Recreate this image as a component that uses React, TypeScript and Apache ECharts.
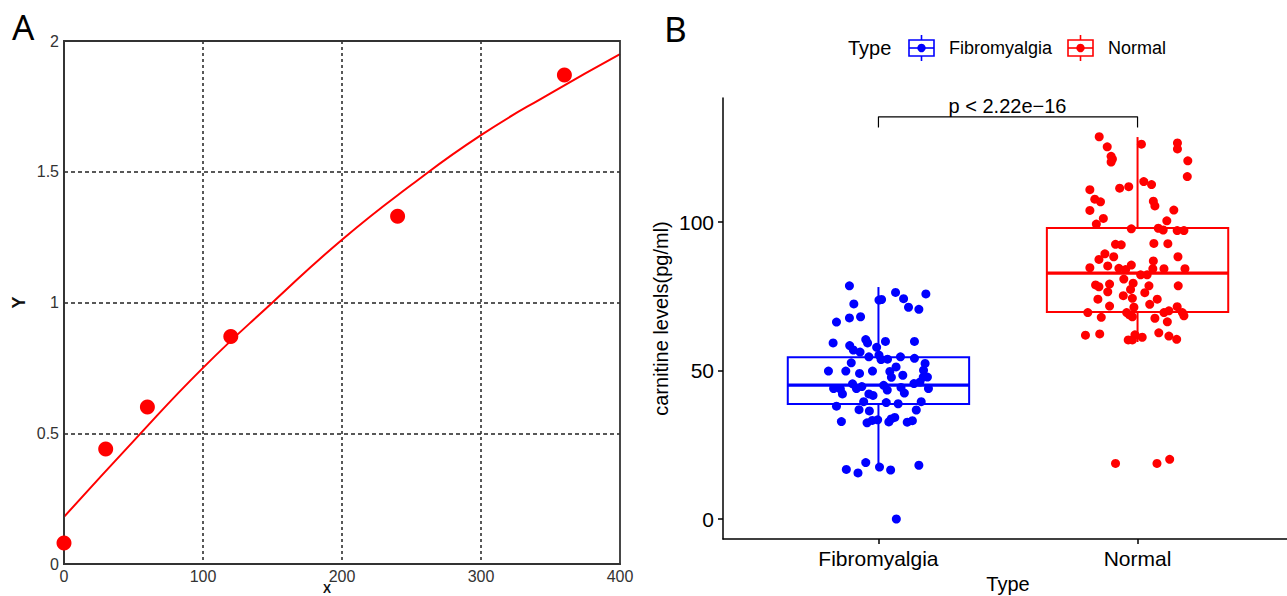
import React, { useEffect, useRef } from "react";
import * as echarts from "echarts";

// ---------- Panel A: standard curve ----------
const stdX = [0, 30, 60, 120, 240, 360];
const stdY = [0.08, 0.44, 0.6, 0.87, 1.33, 1.87];
const fitX = [0, 50, 100, 150, 200, 250, 300, 350, 400];
const fitY = [0.18, 0.47, 0.75, 1.0, 1.24, 1.45, 1.64, 1.8, 1.95];
const panelAXTicks = [0, 100, 200, 300, 400];

// ---------- Panel B: carnitine levels ----------
const categories = ["Fibromyalgia", "Normal"];
const categoryPos = [1, 2];
const yTicksB = [0, 50, 100];

const boxMin = [17.0, 59.6];
const boxQ1 = [38.7, 69.7];
const boxMedian = [45.1, 82.8];
const boxQ3 = [54.5, 98.0];
const boxMax = [78.1, 128.6];

const fibJitter = [
  0.888, 1.066, 1.183, 0.905, 1.002, 1.012, 1.097, 1.116, 1.156, 0.838, 0.888, 0.931,
  0.825, 0.951, 0.958, 1.027, 1.139, 0.889, 0.903, 0.929, 0.993, 0.963, 1.002, 1.01,
  1.035, 1.085, 1.139, 0.895, 1.18, 0.807, 0.874, 0.927, 0.977, 1.044, 1.05, 1.068,
  1.094, 1.174, 1.173, 1.189, 0.827, 0.853, 0.861, 0.9, 0.915, 0.936, 0.963, 0.979,
  1.02, 1.034, 1.087, 1.1, 1.137, 1.16, 1.193, 0.943, 0.838, 0.925, 0.965, 1.03,
  1.076, 1.165, 1.146, 0.857, 0.956, 0.976, 0.997, 1.04, 1.049, 1.063, 1.111, 1.131,
  0.876, 0.921, 0.951, 1.004, 1.047, 1.156, 1.069,
];
const fibValues = [
  78.5, 76.3, 75.8, 72.4, 73.7, 73.9, 74.2, 71.3, 70.6, 66.3, 67.7, 68.1,
  59.3, 60.4, 59.3, 59.8, 59.8, 58.4, 56.9, 56.2, 57.8, 54.6, 55.2, 53.7,
  53.8, 54.6, 54.1, 52.6, 52.4, 49.8, 49.8, 49.0, 49.8, 49.7, 47.7, 51.2,
  48.4, 50.1, 47.8, 47.8, 43.9, 43.8, 42.1, 45.5, 43.9, 44.6, 42.1, 41.6,
  45.0, 43.4, 44.3, 42.4, 45.6, 46.1, 43.9, 39.5, 38.0, 36.8, 36.4, 39.2,
  38.8, 39.5, 36.7, 32.8, 32.4, 33.2, 33.4, 32.7, 33.7, 34.2, 32.6, 33.1,
  16.7, 15.5, 19.0, 17.5, 16.5, 18.1, 0.0,
];

const normalJitter = [
  1.852, 1.883, 1.898, 1.903, 1.898, 2.015, 2.154, 2.154, 2.194, 2.192,
  1.816, 1.931, 1.966, 2.024, 2.054, 1.835, 1.857, 1.816, 2.061, 2.067, 2.14,
  1.868, 1.841, 2.113, 1.976, 2.08, 2.099, 2.153, 2.179,
  1.915, 1.937, 2.063, 2.117, 1.874, 1.851, 1.908, 2.156, 2.061,
  1.816, 1.885, 1.928, 1.954, 1.976, 2.059, 2.102, 2.183, 2.012, 2.037, 1.947,
  1.838, 1.851, 1.892, 1.983, 1.973, 2.044, 2.157, 1.885, 1.945, 1.98, 2.028,
  1.847, 2.076, 2.047, 1.892, 1.986,
  1.808, 1.958, 1.969, 1.98, 2.102, 2.121, 2.153, 2.173, 2.179, 1.86, 2.067, 2.115,
  1.799, 1.854, 1.964, 1.98, 1.99, 2.018, 2.082, 2.121, 2.151,
  1.915, 2.075, 2.124,
];
const normalValues = [
  128.7, 125.3, 122.1, 121.2, 120.2, 126.2, 126.6, 124.6, 120.6, 115.3,
  110.9, 111.4, 111.9, 113.6, 112.6, 107.7, 106.8, 103.9, 107.0, 105.4, 104.0,
  101.2, 99.3, 100.4, 97.7, 97.9, 97.3, 97.1, 97.1,
  92.5, 92.3, 92.8, 92.7, 89.3, 87.4, 88.3, 88.3, 86.9,
  84.6, 85.2, 84.4, 84.0, 85.5, 84.3, 84.3, 84.3, 82.2, 82.2, 80.8,
  78.8, 78.2, 79.1, 79.4, 77.3, 78.5, 78.5, 76.5, 75.2, 74.3, 76.2,
  74.0, 74.0, 72.3, 71.7, 71.3,
  69.5, 69.5, 68.7, 68.1, 69.5, 70.1, 71.5, 69.5, 68.4, 67.9, 67.6, 66.4,
  61.9, 62.3, 60.3, 60.3, 62.0, 61.2, 62.7, 61.6, 60.5,
  18.7, 18.7, 20.1,
];

const groupColors = ["#0000FF", "#FF0000"];
const bracketX = [1, 1, 2, 2];
const bracketY = [131.8, 135.4, 135.4, 131.8];
const pLabel = "p < 2.22e\u221216";

const FONT = "'Liberation Sans', Arial, sans-serif";

function legendIcon(x: number, color: string) {
  const w = 25;
  const top = 40;
  const h = 16;
  const cx = x + w / 2;
  return {
    type: "group",
    children: [
      { type: "rect", shape: { x, y: top, width: w, height: h }, style: { fill: "none", stroke: color, lineWidth: 1.6 } },
      { type: "line", shape: { x1: x, y1: top + h / 2, x2: x + w, y2: top + h / 2 }, style: { stroke: color, lineWidth: 1.6 } },
      { type: "line", shape: { x1: cx, y1: top - 5, x2: cx, y2: top }, style: { stroke: color, lineWidth: 1.6 } },
      { type: "line", shape: { x1: cx, y1: top + h, x2: cx, y2: top + h + 5 }, style: { stroke: color, lineWidth: 1.6 } },
      { type: "circle", shape: { cx, cy: top + h / 2, r: 4.2 }, style: { fill: color } },
    ],
  };
}

export default function App() {
  const ref = useRef<HTMLDivElement>(null);
  useEffect(() => {
    if (!ref.current) return;
    const chart = echarts.init(ref.current, undefined, { renderer: "svg" });
    const option: any = {
      animation: false,
      backgroundColor: "#ffffff",
      textStyle: { fontFamily: FONT },
      grid: [
        {
          left: 64, top: 41, width: 556, height: 523, show: true, borderColor: "#333", borderWidth: 1.8,
          backgroundColor: "transparent", z: 3, containLabel: false, outerBoundsMode: "none",
        },
        { left: 723, top: 98, width: 570, height: 441, containLabel: false, outerBoundsMode: "none" },
      ],
      xAxis: [
        {
          gridIndex: 0,
          type: "value",
          min: 0,
          max: 400,
          interval: 100,
          axisLine: { show: true, onZero: false, lineStyle: { color: "#333", width: 1.8 } },
          axisTick: { show: false },
          axisLabel: { color: "#333", fontSize: 16, margin: 4, fontFamily: FONT, customValues: panelAXTicks },
          splitLine: { show: true, showMinLine: false, showMaxLine: false, lineStyle: { color: "#222", type: [3, 3], width: 1.5 } },
        },
        {
          gridIndex: 1,
          type: "value",
          min: 0.4,
          max: 2.6,
          axisLine: { show: true, onZero: false, lineStyle: { color: "#000", width: 1.5 } },
          axisTick: { show: true, customValues: categoryPos, length: 5, lineStyle: { color: "#000", width: 1.5 } },
          axisLabel: {
            customValues: categoryPos,
            formatter: (v: number) => categories[Math.round(v) - 1] ?? "",
            fontSize: 21,
            color: "#000",
            margin: 9,
            fontFamily: FONT,
          },
          splitLine: { show: false },
          name: "Type",
          nameLocation: "middle",
          nameGap: 34,
          nameTextStyle: { color: "#000", fontSize: 20, fontFamily: FONT },
        },
      ],
      yAxis: [
        {
          gridIndex: 0,
          type: "value",
          min: 0,
          max: 2,
          interval: 0.5,
          axisLine: { show: true, onZero: false, lineStyle: { color: "#333", width: 1.8 } },
          axisTick: { show: false },
          axisLabel: { color: "#333", fontSize: 16, margin: 5, fontFamily: FONT },
          splitLine: { show: true, showMinLine: false, showMaxLine: false, lineStyle: { color: "#222", type: [4, 3], width: 1.5 } },
          name: "Y",
          nameLocation: "middle",
          nameGap: 36,
          nameTextStyle: { color: "#111", fontSize: 18, fontWeight: "bold", fontFamily: FONT },
        },
        {
          gridIndex: 1,
          type: "value",
          min: -6.73,
          max: 141.75,
          axisLine: { show: true, onZero: false, lineStyle: { color: "#000", width: 1.5 } },
          axisTick: { show: true, customValues: yTicksB, length: 5, lineStyle: { color: "#000", width: 1.5 } },
          axisLabel: { customValues: yTicksB, fontSize: 21, color: "#000", margin: 9, fontFamily: FONT },
          splitLine: { show: false },
          name: "carnitine levels(pg/ml)",
          nameLocation: "middle",
          nameGap: 52,
          nameTextStyle: { color: "#000", fontSize: 20, fontFamily: FONT },
        },
      ],
      series: [
        {
          type: "line",
          xAxisIndex: 0,
          yAxisIndex: 0,
          data: fitX.map((x, i) => [x, fitY[i]]),
          smooth: true,
          showSymbol: false,
          lineStyle: { color: "#FF0000", width: 2 },
          z: 2,
        },
        {
          type: "scatter",
          xAxisIndex: 0,
          yAxisIndex: 0,
          data: stdX.map((x, i) => [x, stdY[i]]),
          symbolSize: 15,
          itemStyle: { color: "#FF0000", opacity: 1 },
          z: 4,
        },
        {
          type: "custom",
          xAxisIndex: 1,
          yAxisIndex: 1,
          data: categoryPos.map((p, i) => [p, boxMin[i], boxQ1[i], boxMedian[i], boxQ3[i], boxMax[i]]),
          encode: { x: 0, y: [1, 2, 3, 4, 5] },
          z: 2,
          renderItem: (params: any, api: any) => {
            const x = api.value(0);
            const color = groupColors[params.dataIndex];
            const pMin = api.coord([x, api.value(1)]);
            const pQ1 = api.coord([x, api.value(2)]);
            const pMed = api.coord([x, api.value(3)]);
            const pQ3 = api.coord([x, api.value(4)]);
            const pMax = api.coord([x, api.value(5)]);
            const half = api.size([0.7, 0])[0] / 2;
            const cx = pMed[0];
            return {
              type: "group",
              children: [
                { type: "line", shape: { x1: cx, y1: pQ3[1], x2: cx, y2: pMax[1] }, style: { stroke: color, lineWidth: 2 } },
                { type: "line", shape: { x1: cx, y1: pQ1[1], x2: cx, y2: pMin[1] }, style: { stroke: color, lineWidth: 2 } },
                {
                  type: "rect",
                  shape: { x: cx - half, y: pQ3[1], width: half * 2, height: pQ1[1] - pQ3[1] },
                  style: { fill: "none", stroke: color, lineWidth: 2 },
                },
                { type: "line", shape: { x1: cx - half, y1: pMed[1], x2: cx + half, y2: pMed[1] }, style: { stroke: color, lineWidth: 3.2 } },
              ],
            };
          },
        },
        {
          type: "scatter",
          name: categories[0],
          xAxisIndex: 1,
          yAxisIndex: 1,
          data: fibJitter.map((x, i) => [x, fibValues[i]]),
          symbolSize: 9,
          itemStyle: { color: groupColors[0], opacity: 1 },
          z: 4,
        },
        {
          type: "scatter",
          name: categories[1],
          xAxisIndex: 1,
          yAxisIndex: 1,
          data: normalJitter.map((x, i) => [x, normalValues[i]]),
          symbolSize: 9,
          itemStyle: { color: groupColors[1], opacity: 1 },
          z: 4,
        },
        {
          type: "line",
          xAxisIndex: 1,
          yAxisIndex: 1,
          data: bracketX.map((x, i) => [x, bracketY[i]]),
          showSymbol: false,
          lineStyle: { color: "#000", width: 1.2 },
          z: 3,
        },
      ],
      graphic: [
        { type: "text", x: 12, y: 26, style: { text: "A", fontSize: 35, fontFamily: "'Noto Sans', sans-serif", fill: "#000", textVerticalAlign: "middle" } },
        { type: "text", x: 664, y: 28, style: { text: "B", fontSize: 35, fontFamily: "'Noto Sans', sans-serif", fill: "#000", textVerticalAlign: "middle" } },
        { type: "text", x: 327, y: 589, style: { text: "X", fontSize: 12, fontWeight: "bold", fontFamily: FONT, fill: "#111", textAlign: "center", textVerticalAlign: "middle" } },
        { type: "text", x: 1007.5, y: 106, style: { text: pLabel, fontSize: 20, fontFamily: FONT, fill: "#000", textAlign: "center", textVerticalAlign: "middle" } },
        { type: "text", x: 848, y: 48, style: { text: "Type", fontSize: 20, fontFamily: FONT, fill: "#000", textVerticalAlign: "middle" } },
        legendIcon(909, groupColors[0]),
        { type: "text", x: 949, y: 48, style: { text: categories[0], fontSize: 18, fontFamily: FONT, fill: "#000", textVerticalAlign: "middle" } },
        legendIcon(1068, groupColors[1]),
        { type: "text", x: 1108, y: 48, style: { text: categories[1], fontSize: 18, fontFamily: FONT, fill: "#000", textVerticalAlign: "middle" } },
      ],
    };
    chart.setOption(option);
    return () => chart.dispose();
  }, []);
  return (
    <div
      ref={ref}
      style={{ position: "fixed", left: 0, top: 0, width: 1287, height: 596, background: "#fff" }}
    />
  );
}
